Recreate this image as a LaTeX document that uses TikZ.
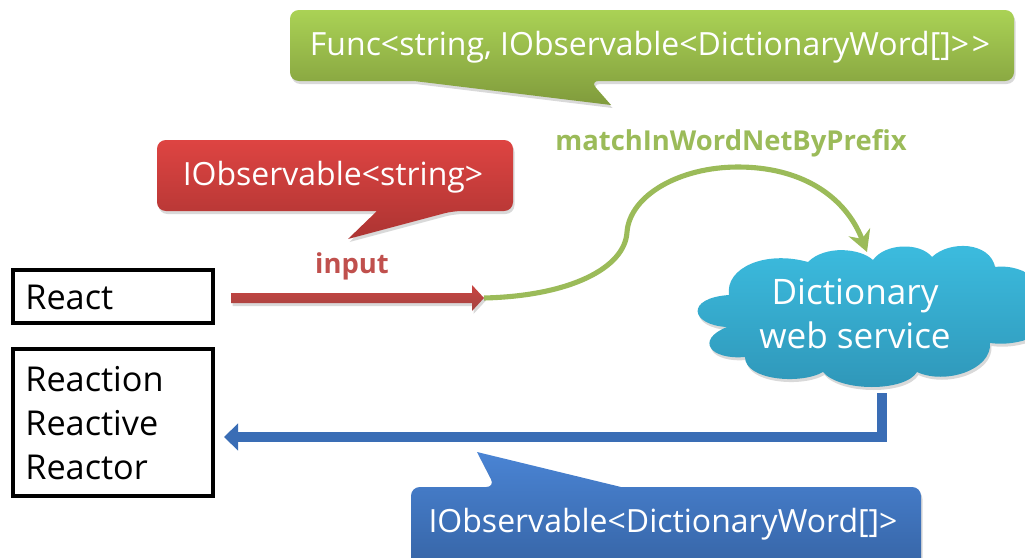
\documentclass[tikz,border=0pt]{standalone}
\usepackage{fontspec}
\setmainfont{Open Sans}
\usepackage{xcolor}
\usetikzlibrary{arrows.meta,shadows,calc}
\definecolor{funcgreen}{HTML}{9BBB59}
\definecolor{inputred}{HTML}{C0504D}
\definecolor{resultblue}{HTML}{3A6DB5}
\definecolor{cloudtop}{HTML}{3CBDE0}
\definecolor{cloudbottom}{HTML}{2F96B8}
\tikzset{
  softshadow/.style={drop shadow={shadow xshift=0.3mm,shadow yshift=-0.6mm,opacity=0.3}},
  callout/.style={softshadow,rounded corners=5pt},
  greenfill/.style={callout,top color={rgb,255:red,170;green,210;blue,85},bottom color={rgb,255:red,128;green,155;blue,60}},
  redfill/.style={callout,top color={rgb,255:red,222;green,68;blue,66},bottom color={rgb,255:red,172;green,52;blue,50}},
  bluefill/.style={callout,top color={rgb,255:red,74;green,132;blue,212},bottom color={rgb,255:red,54;green,100;blue,165}},
  calltext/.style={text=white,font=\fontsize{18.2}{22}\selectfont,inner sep=0pt},
  wordbox/.style={draw=black,line width=1.9pt,fill=white},
  wordtext/.style={anchor=west,align=left,inner sep=0pt,font=\fontsize{19.5}{25}\selectfont},
  tagtext/.style={font=\bfseries\fontsize{15.6}{18}\selectfont,inner sep=0pt}
}
\begin{document}
\begin{tikzpicture}[x=0.02cm,y=-0.02cm]
    \useasboundingbox (0,0) rectangle (1025,558);
    \clip (0,0) rectangle (1025,558);

    \coordinate (inputstart) at (231,298);
    \coordinate (inputend) at (484,298);
    \coordinate (servicetop) at (867,252);
    \coordinate (stemtop) at (881.5,393);
    \coordinate (resulthead) at (224,437);

    \path[greenfill] (290,10) -- (1014,10) -- (1014,81) -- (590,81) [sharp corners] -- (611,105) -- (414,81) [rounded corners=5pt] -- (290,81) -- cycle;
    \node[calltext] (functext) at (650,47) {Func<string, IObservable<DictionaryWord[]>{}\kern1.5pt>};
    \node[tagtext,text=funcgreen] (matchlabel) at (731,143) {matchInWordNetByPrefix};

    \path[redfill] (157,140) -- (513,140) -- (513,211) -- (453,211) [sharp corners] -- (348,239) -- (377,211) [rounded corners=5pt] -- (157,211) -- cycle;
    \node[calltext] (inputtext) at (333,177) {IObservable<string>};
    \node[tagtext,text=inputred] (inputlabel) at (352,266) {input};

    \draw[wordbox] (13,270) rectangle (213,323);
    \node[wordtext] (react) at (25,297) {React};
    \draw[wordbox] (13,349) rectangle (213,496);
    \node[wordtext] (reactions) at (25,423) {Reaction\\Reactive\\Reactor};

    \draw[line width=2.9pt,funcgreen,-{Stealth[length=12pt,width=13pt,inset=4pt]}] (inputend) .. controls (570,296) and (625,268) .. (627,232) .. controls (630,195) and (680,167) .. (738,167) .. controls (800,167) and (845,195) .. (servicetop);

    \path[softshadow,top color=inputred!85!red,bottom color=inputred!85!black] (inputstart) ++(0,-5) -- (472,293) -- (472,285) -- (inputend) -- (472,311) -- (472,303) -- (231,303) -- cycle;

    \path[softshadow,top color=cloudtop,bottom color=cloudbottom]
      (729,295) .. controls (725,268) and (765,250) .. (808,262)
      .. controls (825,245) and (860,248) .. (873,260)
      .. controls (885,243) and (920,242) .. (932,257)
      .. controls (950,240) and (990,242) .. (995,267)
      .. controls (1010,265) and (1030,270) .. (1040,285) -- (1040,335)
      .. controls (1020,343) and (1005,345) .. (990,343)
      .. controls (992,370) and (945,385) .. (917,372)
      .. controls (905,392) and (840,392) .. (823,372)
      .. controls (800,385) and (745,380) .. (745,357)
      .. controls (710,360) and (695,340) .. (727,327)
      .. controls (690,325) and (685,298) .. (729,295) -- cycle;
    \node[text=white,align=center,inner sep=0pt,font=\fontsize{20}{25}\selectfont] (service) at (855,314) {Dictionary\\web service};

    \draw[line width=5.7pt,resultblue,-{Triangle[length=8pt,width=15pt]}] (stemtop) |- (resulthead);

    \path[bluefill] (411,487) -- (495,487) [sharp corners] -- (477,452) -- (621,487) [rounded corners=5pt] -- (921,487) -- (921,570) -- (411,570) -- cycle;
    \node[calltext] (resulttext) at (663,524) {IObservable<DictionaryWord[]>};
\end{tikzpicture}
\end{document}
